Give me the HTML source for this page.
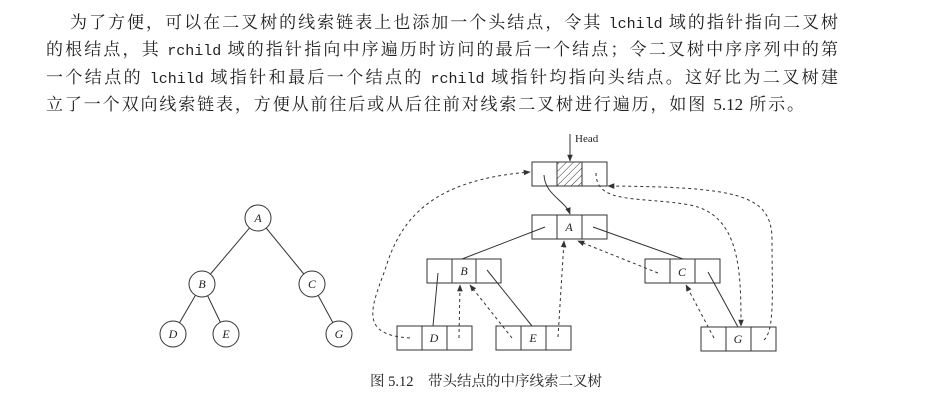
<!DOCTYPE html>
<html><head><meta charset="utf-8"><style>
body{margin:0;width:937px;height:401px;background:#fff;overflow:hidden;position:relative;font-family:"Liberation Serif","Noto Serif CJK SC",serif;color:#222}
.t{position:absolute;font-size:17px;white-space:nowrap;text-align:justify;text-align-last:justify}
.m{font-family:"Liberation Mono",monospace;font-size:15px}
</style></head><body>
<div class="t" style="left:70px;top:8px;width:768px">为了方便，可以在二叉树的线索链表上也添加一个头结点，令其 <span class="m">lchild</span> 域的指针指向二叉树</div>
<div class="t" style="left:46px;top:35px;width:792px">的根结点，其 <span class="m">rchild</span> 域的指针指向中序遍历时访问的最后一个结点；令二叉树中序序列中的第</div>
<div class="t" style="left:46px;top:63px;width:792px">一个结点的 <span class="m">lchild</span> 域指针和最后一个结点的 <span class="m">rchild</span> 域指针均指向头结点。这好比为二叉树建</div>
<div class="t" style="left:46px;top:90px;width:758px">立了一个双向线索链表，方便从前往后或从后往前对线索二叉树进行遍历，如图 5.12 所示。</div>
<svg width="937" height="401" style="position:absolute;left:0;top:0" font-family="Liberation Serif,serif">
<defs>
<marker id="ar" viewBox="0 0 10 10" refX="9" refY="5" markerWidth="7" markerHeight="7" orient="auto"><path d="M0,1 L10,5 L0,9 z" fill="#333"/></marker>
<pattern id="h" width="5" height="5" patternUnits="userSpaceOnUse" patternTransform="rotate(45)"><line x1="0" y1="0" x2="0" y2="5" stroke="#333" stroke-width="1"/></pattern>
</defs>
<g stroke="#333" fill="none" stroke-width="1">
<line x1="258" y1="218" x2="202" y2="284"/><line x1="258" y1="218" x2="312" y2="284"/>
<line x1="202" y1="284" x2="173" y2="334"/><line x1="202" y1="284" x2="226" y2="334"/>
<line x1="312" y1="284" x2="339" y2="334"/>
</g>
<g stroke="#333" fill="#fff">
<circle cx="258" cy="218" r="13"/><circle cx="202" cy="284" r="13"/><circle cx="312" cy="284" r="13"/>
<circle cx="173" cy="334" r="13"/><circle cx="226" cy="334" r="13"/><circle cx="339" cy="334" r="13"/>
</g>
<g font-style="italic" font-size="12" text-anchor="middle" fill="#222">
<text x="258" y="222">A</text><text x="202" y="288">B</text><text x="312" y="288">C</text>
<text x="173" y="338">D</text><text x="226" y="338">E</text><text x="339" y="338">G</text>
</g>
<rect x="557" y="162" width="25" height="24" fill="url(#h)"/>
<g stroke="#333" fill="none">
<rect x="532" y="162" width="75" height="24"/><line x1="557" y1="162" x2="557" y2="186"/><line x1="582" y1="162" x2="582" y2="186"/>
<rect x="532" y="215" width="75" height="24"/><line x1="557" y1="215" x2="557" y2="239"/><line x1="582" y1="215" x2="582" y2="239"/>
<rect x="427" y="259" width="74" height="24"/><line x1="452" y1="259" x2="452" y2="283"/><line x1="476" y1="259" x2="476" y2="283"/>
<rect x="645" y="259" width="75" height="24"/><line x1="670" y1="259" x2="670" y2="283"/><line x1="695" y1="259" x2="695" y2="283"/>
<rect x="397" y="326" width="75" height="24"/><line x1="422" y1="326" x2="422" y2="350"/><line x1="447" y1="326" x2="447" y2="350"/>
<rect x="496" y="326" width="75" height="24"/><line x1="521" y1="326" x2="521" y2="350"/><line x1="546" y1="326" x2="546" y2="350"/>
<rect x="701" y="327" width="75" height="24"/><line x1="726" y1="327" x2="726" y2="351"/><line x1="751" y1="327" x2="751" y2="351"/>
<line x1="570" y1="134" x2="570" y2="161" marker-end="url(#ar)"/>
<path d="M544,175 C545,195 565,200 570,214" marker-end="url(#ar)"/>
<line x1="545" y1="227" x2="462" y2="259"/><line x1="593" y1="227" x2="683" y2="259"/>
<line x1="438" y1="273" x2="433" y2="326"/><line x1="487" y1="270" x2="532" y2="326"/>
<line x1="708" y1="272" x2="738" y2="327"/>
</g>
<g stroke="#333" fill="none" stroke-dasharray="3,3">
<path d="M410,338 C360,335 370,310 385,270 C400,220 430,180 530,172" marker-end="url(#ar)"/>
<line x1="459" y1="338" x2="460" y2="285" marker-end="url(#ar)"/>
<line x1="512" y1="338" x2="470" y2="285" marker-end="url(#ar)"/>
<line x1="558" y1="337" x2="564" y2="241" marker-end="url(#ar)"/>
<line x1="658" y1="273" x2="578" y2="241" marker-end="url(#ar)"/>
<line x1="714" y1="338" x2="686" y2="285" marker-end="url(#ar)"/>
<path d="M764,340 C775,330 772,290 772,240 C772,195 740,187 608,186" marker-end="url(#ar)"/>
<path d="M596,173 C596,205 640,196 690,205 C740,215 741,270 741,326" marker-end="url(#ar)"/>
</g>
<text x="575" y="142" font-size="11" fill="#222">Head</text>
<g font-style="italic" font-size="12" text-anchor="middle" fill="#222">
<text x="569" y="231">A</text><text x="464" y="275">B</text><text x="682" y="276">C</text>
<text x="434" y="342">D</text><text x="533" y="342">E</text><text x="738" y="343">G</text>
</g>
<text x="370" y="386" font-size="14.5" fill="#222" font-family="Liberation Serif,Noto Serif CJK SC,serif">图 5.12　带头结点的中序线索二叉树</text>
</svg>
</body></html>
